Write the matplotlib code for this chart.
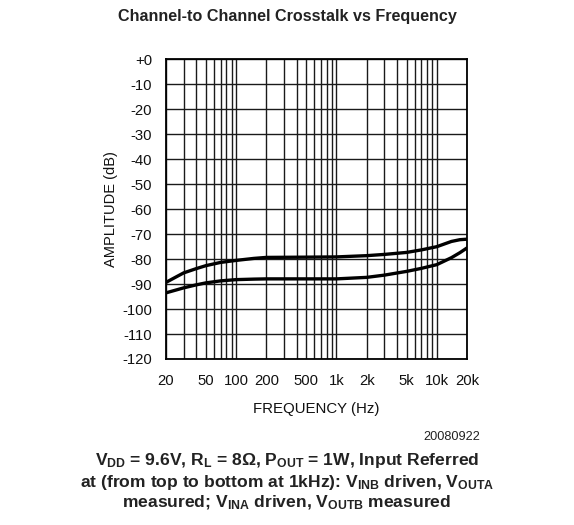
import matplotlib
matplotlib.use("Agg")
import matplotlib.pyplot as plt
import numpy as np

plt.rcParams['font.family'] = ['Liberation Sans', 'DejaVu Sans']
plt.rcParams['mathtext.fontset'] = 'custom'
plt.rcParams['mathtext.rm'] = 'Liberation Sans'
plt.rcParams['mathtext.bf'] = 'Liberation Sans:bold'
plt.rcParams['mathtext.it'] = 'Liberation Sans:italic'

freq = [20, 25, 30, 40, 50, 70, 100, 150, 200, 500, 1000, 2000, 3000, 5000, 7000, 10000, 14000, 17000, 20000]
top_curve = [-89.3, -87.2, -85.5, -83.8, -82.6, -81.3, -80.5, -79.7, -79.3, -79.2, -79.1, -78.6, -78.1, -77.3, -76.3, -75.0, -72.9, -72.2, -72.0]
bottom_curve = [-93.5, -92.4, -91.5, -90.3, -89.5, -88.7, -88.2, -88.0, -87.9, -87.9, -87.9, -87.3, -86.4, -84.9, -83.7, -82.2, -79.4, -77.4, -75.5]

xtick_vals = [20, 50, 100, 200, 500, 1000, 2000, 5000, 10000, 20000]
xtick_labels = ['20', '50', '100', '200', '500', '1k', '2k', '5k', '10k', '20k']
ytick_vals = list(range(0, -130, -10))
ytick_labels = ['+0'] + [str(v) for v in ytick_vals[1:]]

fig = plt.figure(figsize=(5.74, 5.25), dpi=100)
ax = fig.add_axes([0.2892, 0.3162, 0.5244, 0.5705])
ax.set_xscale('log')
ax.set_xlim(20, 20000)
ax.set_ylim(-120, 0)

# grid
grid_x = [m * 10**e for e in range(1, 5) for m in range(1, 10) if 20 <= m * 10**e <= 20000]
for g in grid_x:
    ax.axvline(g, color='#1a1a1a', lw=1.0, zorder=1)
for g in ytick_vals:
    ax.axhline(g, color='#1a1a1a', lw=1.0, zorder=1)

ax.plot(freq, top_curve, color='black', lw=2.4, zorder=3, solid_capstyle='round', solid_joinstyle='round')
ax.plot(freq, bottom_curve, color='black', lw=2.4, zorder=3, solid_capstyle='round', solid_joinstyle='round')

ax.set_xticks(xtick_vals)
ax.set_xticklabels(xtick_labels)
ax.xaxis.set_minor_locator(matplotlib.ticker.NullLocator())
ax.set_yticks(ytick_vals)
ax.set_yticklabels(ytick_labels)
ax.tick_params(axis='both', length=0, labelsize=10.7, colors='#111111')
ax.tick_params(axis='x', pad=11)
ax.tick_params(axis='y', pad=10)
for s in ax.spines.values():
    s.set_linewidth(1.3)
    s.set_color('black')

ax.set_ylabel('AMPLITUDE (dB)', fontsize=10.5, labelpad=3, color='#111111')
ax.set_xlabel('FREQUENCY (Hz)', fontsize=10.8, labelpad=10, color='#111111')

fig.text(0.5, 1 - 17/525, 'Channel-to Channel Crosstalk vs Frequency', ha='center', va='center',
         fontsize=11.6, fontweight='bold', color='#222222')
fig.text(480/574, 1 - 437/525, '20080922', ha='right', va='center', fontsize=9.2, color='#222222')

lines = [
    r'$\mathbf{V_{DD}}$ = 9.6V, $\mathbf{R_L}$ = 8$\mathbf{\Omega}$, $\mathbf{P_{OUT}}$ = 1W, Input Referred',
    r'at (from top to bottom at 1kHz): $\mathbf{V_{INB}}$ driven, $\mathbf{V_{OUTA}}$',
    r'measured; $\mathbf{V_{INA}}$ driven, $\mathbf{V_{OUTB}}$ measured',
]
ys = [460, 482, 503]
for t, y in zip(lines, ys):
    fig.text(0.5, 1 - y/525, t, ha='center', va='center', fontsize=12.6, fontweight='bold', color='#222222')

fig.savefig('out.png', dpi=100)
